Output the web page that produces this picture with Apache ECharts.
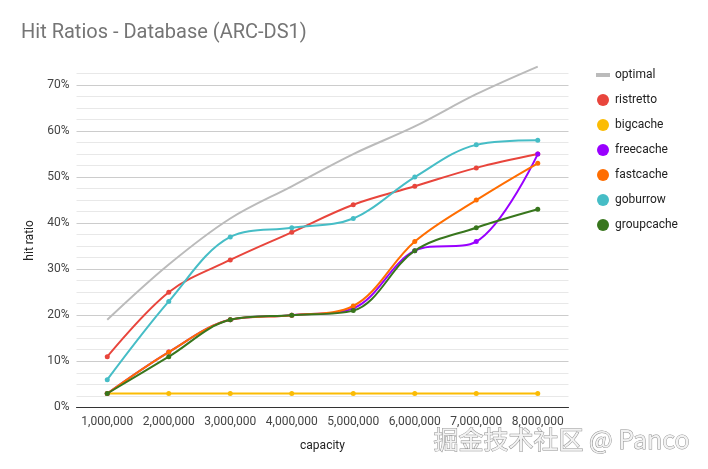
<!DOCTYPE html>
<html>
<head>
<meta charset="utf-8">
<script src="https://cdn.jsdelivr.net/npm/echarts@6/dist/echarts.min.js"></script>
<style>html,body{margin:0;padding:0;background:#fff;}#c{width:708px;height:469px;}</style>
</head>
<body>
<div id="c"></div>
<script>
const categories = ['1,000,000','2,000,000','3,000,000','4,000,000','5,000,000','6,000,000','7,000,000','8,000,000'];
const optimal   = [19, 31, 41, 48, 55, 61, 68, 74];
const ristretto = [11, 25, 32, 38, 44, 48, 52, 55];
const bigcache  = [3, 3, 3, 3, 3, 3, 3, 3];
const freecache = [3, 12, 19, 20, 21.5, 34, 36, 55];
const fastcache = [3, 12, 19, 20, 22, 36, 45, 53];
const goburrow  = [6, 23, 37, 39, 41, 50, 57, 58];
const groupcache= [3, 11, 19, 20, 21, 34, 39, 43];
const seriesNames = ['optimal','ristretto','bigcache','freecache','fastcache','goburrow','groupcache'];
const seriesData = [optimal, ristretto, bigcache, freecache, fastcache, goburrow, groupcache];
const colors = ['#bbbbbb','#e8453c','#fbbc04','#9900ff','#ff6d01','#46bdc6','#38761d'];

const chart = echarts.init(document.getElementById('c'), null, {renderer:'canvas'});
const font = 'Roboto, "Noto Sans", sans-serif';
const major = '#cccccc', minor = '#e8e8e8';
chart.setOption({
  animation: false,
  color: colors,
  textStyle: {fontFamily: font},
  title: {
    text: 'Hit Ratios - Database (ARC-DS1)',
    left: 21, top: 23, padding: 0,
    textStyle: {fontSize: 20, fontWeight: 'normal', color: '#757575', fontFamily: font}
  },
  legend: {
    orient: 'vertical', left: 596, top: 69, padding: 0,
    itemWidth: 14, itemHeight: 12, itemGap: 13,
    textStyle: {fontSize: 12, color: '#222', fontFamily: font},
    data: seriesNames.map((n, i) => ({
      name: n,
      icon: i === 0 ? 'path://M0,0 L14,0 L14,4 L0,4 Z' : 'circle'
    }))
  },
  grid: {left: 76.5, right: 139.5, top: 73.5, bottom: 61.7, containLabel: false},
  xAxis: {
    type: 'category', data: categories, boundaryGap: true,
    name: 'capacity', nameLocation: 'middle', nameGap: 33,
    nameTextStyle: {fontSize: 12, color: '#222', fontFamily: font},
    axisLine: {lineStyle: {color: '#333', width: 1}},
    axisTick: {show: false},
    axisLabel: {fontSize: 12, color: '#444', margin: 9, interval: 0, fontFamily: font},
    splitLine: {show: false}
  },
  yAxis: {
    type: 'value', min: 0, max: 72.5, interval: 2.5,
    name: 'hit ratio', nameLocation: 'middle', nameGap: 41, nameRotate: 90,
    nameTextStyle: {fontSize: 12, color: '#222', fontFamily: font},
    axisLine: {show: false}, axisTick: {show: false},
    axisLabel: {
      fontSize: 12, color: '#444', margin: 7, fontFamily: font,
      formatter: v => (Math.abs(v / 10 - Math.round(v / 10)) < 1e-6 ? Math.round(v) + '%' : '')
    },
    splitLine: {show: true, lineStyle: {color: [major, minor, minor, minor], width: 1}}
  },
  series: seriesNames.map((n, i) => ({
    name: n, type: 'line', data: seriesData[i],
    smooth: 0.35, clip: false,
    showSymbol: i !== 0, symbol: 'circle', symbolSize: 5,
    lineStyle: {width: 2},
    z: 2 + i
  })),
  graphic: [{
    type: 'text', left: 433, top: 426, z: 100,
    style: {
      text: '掘金技术社区 @ Panco',
      font: '25px "Noto Sans CJK SC", sans-serif',
      fill: '#f2f2f2', stroke: '#8f8f8f', lineWidth: 1,
      shadowColor: 'rgba(0,0,0,0.35)', shadowBlur: 1, shadowOffsetX: 1, shadowOffsetY: 1
    }
  }]
});
</script>
</body>
</html>
